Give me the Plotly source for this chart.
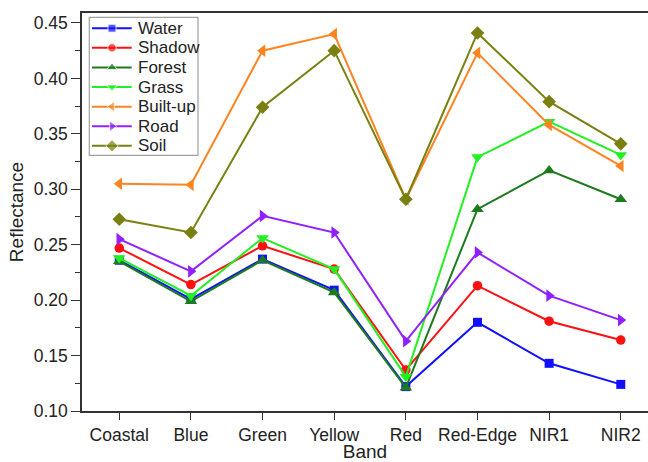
import plotly.graph_objects as go

bands = ["Coastal", "Blue", "Green", "Yellow", "Red", "Red-Edge", "NIR1", "NIR2"]
water = [0.236, 0.201, 0.237, 0.209, 0.122, 0.180, 0.143, 0.124]
shadow = [0.247, 0.214, 0.249, 0.228, 0.137, 0.213, 0.181, 0.164]
forest = [0.235, 0.199, 0.236, 0.207, 0.121, 0.282, 0.317, 0.291]
grass = [0.238, 0.204, 0.256, 0.228, 0.131, 0.329, 0.361, 0.331]
builtup = [0.305, 0.304, 0.425, 0.440, 0.291, 0.423, 0.358, 0.321]
road = [0.255, 0.226, 0.276, 0.261, 0.163, 0.243, 0.204, 0.182]
soil = [0.273, 0.261, 0.374, 0.425, 0.291, 0.441, 0.379, 0.341]

series = [
    ("Water", water, "#1010ff", "square"),
    ("Shadow", shadow, "#ff1010", "circle"),
    ("Forest", forest, "#1e7a1e", "triangle-up"),
    ("Grass", grass, "#22f022", "triangle-down"),
    ("Built-up", builtup, "#ff8420", "triangle-left"),
    ("Road", road, "#9020ff", "triangle-right"),
    ("Soil", soil, "#7a8010", "diamond"),
]
marker_size = {"square": 9, "circle": 9.5, "diamond": 10.5}

font = "Liberation Sans, Arial, sans-serif"
x = list(range(len(bands)))
fig = go.Figure()
for name, vals, color, sym in series:
    fig.add_trace(go.Scatter(
        x=x, y=vals, name=name, mode="lines+markers", showlegend=False,
        line=dict(color=color, width=2),
        marker=dict(symbol=sym, size=marker_size.get(sym, 11), color=color),
    ))

# hand-drawn legend on an overlay axis measured in pixels from the plot's top-left
PW, PH = 566, 400
lg_x0, lg_x1, lg_y0, lg_y1 = 7.3, 116, 4.3, 143
row0, row_step = 15.3, 19.7
annotations = []
for i, (name, vals, color, sym) in enumerate(series):
    ry = row0 + i * row_step
    s = marker_size.get(sym, 10.5) - 1
    fig.add_trace(go.Scatter(
        x=[10, 30, 49.7], y=[ry, ry, ry], xaxis="x2", yaxis="y2",
        mode="lines+markers", showlegend=False, hoverinfo="skip",
        line=dict(color=color, width=2),
        marker=dict(symbol=sym, size=[0, s, 0], color=color),
    ))
    annotations.append(dict(
        x=54, y=ry, xref="x2", yref="y2", text=name, showarrow=False,
        xanchor="left", yanchor="middle", font=dict(size=17, family=font, color="#222222"),
    ))

fig.update_layout(
    width=648, height=462,
    margin=dict(l=82, r=0, t=13, b=49),
    paper_bgcolor="white", plot_bgcolor="white",
    font=dict(family=font, color="#222222"),
    showlegend=False,
    annotations=annotations,
    shapes=[dict(type="rect", xref="x2", yref="y2", x0=lg_x0, x1=lg_x1, y0=lg_y0, y1=lg_y1,
                 line=dict(color="#a0a0a0", width=1.2), fillcolor="white", layer="below")],
    xaxis=dict(
        range=[-0.52, 7.38], tickmode="array", tickvals=x, ticktext=bands,
        showgrid=False, zeroline=False, showline=True, linecolor="#333333",
        linewidth=1.5, mirror=True, ticks="outside", ticklen=7, tickwidth=1.3,
        tickcolor="#333333", tickfont=dict(size=17.5),
        title=dict(text="Band", font=dict(size=19), standoff=4),
    ),
    yaxis=dict(
        range=[0.10, 0.459], tickmode="array",
        tickvals=[0.10, 0.15, 0.20, 0.25, 0.30, 0.35, 0.40, 0.45],
        tickformat=".2f", showgrid=False, zeroline=False, showline=True,
        linecolor="#333333", linewidth=1.5, mirror=False,
        ticks="outside", ticklen=9, tickwidth=1.3, tickcolor="#333333",
        tickfont=dict(size=17.5),
        minor=dict(tickvals=[0.125, 0.175, 0.225, 0.275, 0.325, 0.375, 0.425],
                   ticks="outside", ticklen=5, tickcolor="#333333"),
        title=dict(text="Reflectance", font=dict(size=19), standoff=5),
    ),
    xaxis2=dict(overlaying="x", range=[0, PW], visible=False, fixedrange=True),
    yaxis2=dict(overlaying="y", range=[PH, 0], visible=False, fixedrange=True),
)

fig.write_html("out.html")
